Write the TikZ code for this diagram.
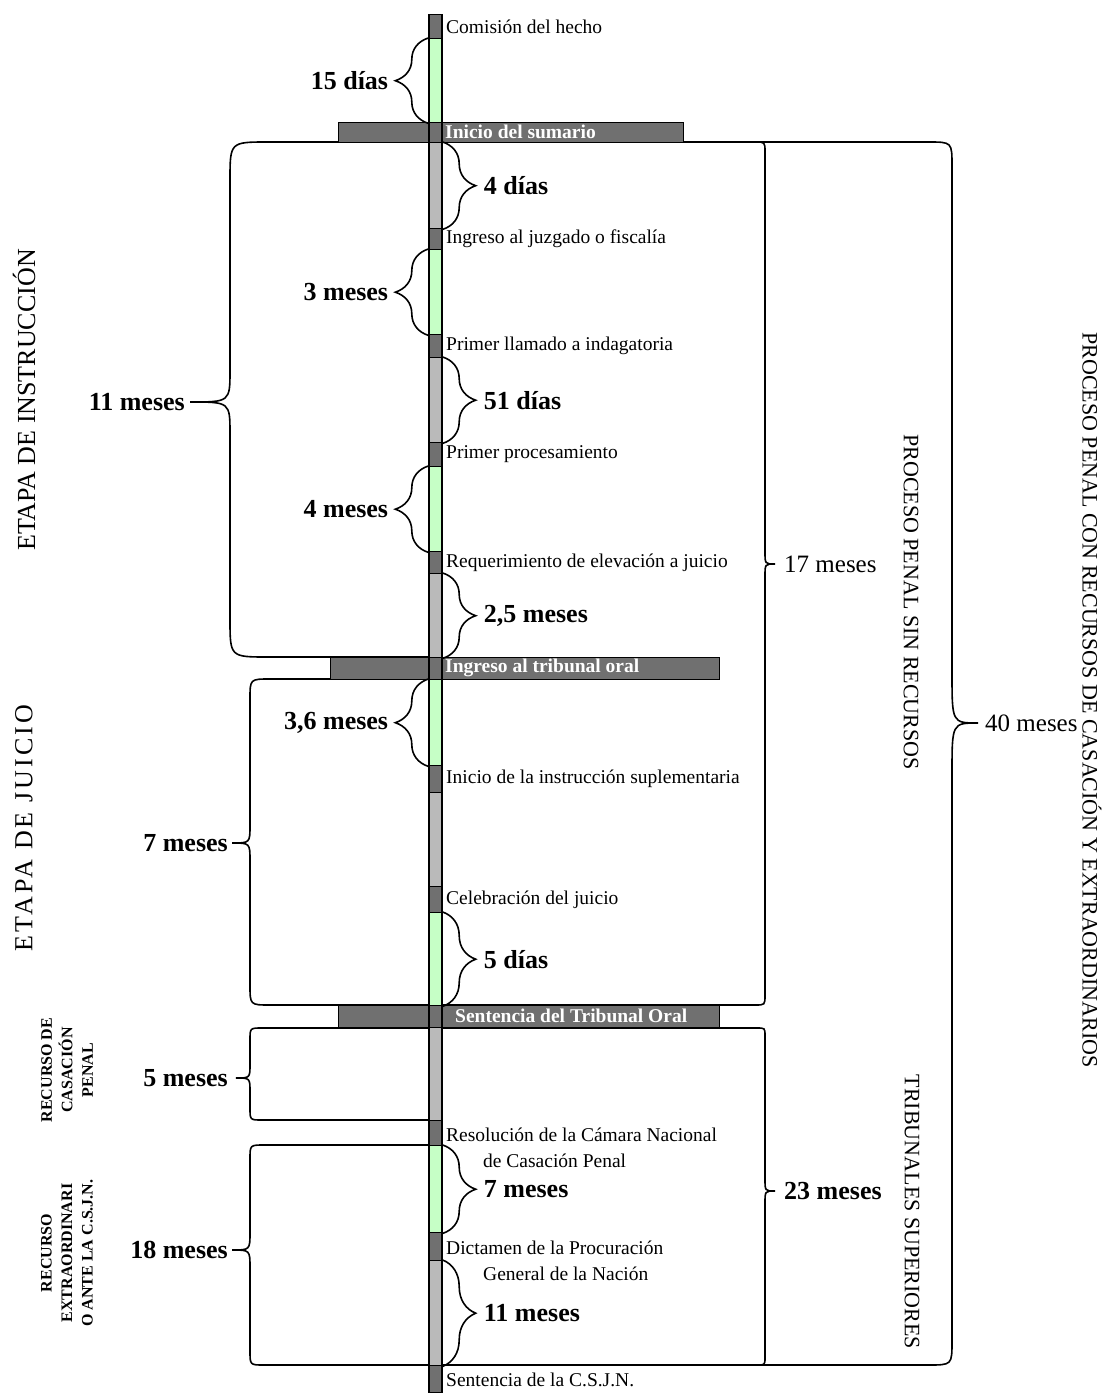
\documentclass[tikz,border=0pt]{standalone}
\usepackage{fontspec}
\setmainfont{Liberation Serif}
\usetikzlibrary{decorations.pathreplacing}

\definecolor{darkseg}{HTML}{707070}
\definecolor{lightseg}{HTML}{BABABA}
\definecolor{greenseg}{HTML}{C6FFC6}

% big brackets: arm x, vertical x, tip x, top y, mid y, bottom y, corner, tip height
\newcommand{\leftbrk}[8]{%
  \draw[bigbrace] (#1,#4) -- ({#2+#7},#4) .. controls (#2,#4) .. (#2,{#4+#7})
    -- (#2,{#5-#8}) .. controls (#2,#5) .. (#3,#5)
    .. controls (#2,#5) .. (#2,{#5+#8})
    -- (#2,{#6-#7}) .. controls (#2,#6) .. ({#2+#7},#6) -- (#1,#6);}
\newcommand{\rightbrk}[8]{%
  \draw[bigbrace] (#1,#4) -- ({#2-#7},#4) .. controls (#2,#4) .. (#2,{#4+#7})
    -- (#2,{#5-#8}) .. controls (#2,#5) .. (#3,#5)
    .. controls (#2,#5) .. (#2,{#5+#8})
    -- (#2,{#6-#7}) .. controls (#2,#6) .. ({#2-#7},#6) -- (#1,#6);}

\begin{document}
\begin{tikzpicture}[x=1pt,y=-1pt,
  seg/.style={draw=black, line width=1.4pt, minimum width=13pt, inner sep=0pt, anchor=north},
  hbar/.style={draw=black, line width=1.4pt, fill=darkseg, inner sep=0pt, anchor=north west},
  event/.style={anchor=west, inner sep=0pt, align=left, font=\fontsize{19.5}{26}\selectfont},
  bartext/.style={anchor=west, inner sep=0pt, text=white, font=\fontsize{19.5}{24}\selectfont\bfseries},
  sbrace/.style={decorate, decoration={brace, amplitude=33pt}, line width=1.6pt},
  bigbrace/.style={line width=1.6pt},
  dur/.style={inner sep=0pt, font=\fontsize{26}{30}\selectfont\bfseries},
  total/.style={inner sep=0pt, font=\fontsize{25}{30}\selectfont},
  stage/.style={inner sep=0pt, rotate=90, font=\fontsize{26}{30}\selectfont},
  appeal/.style={inner sep=0pt, rotate=90, align=center, font=\fontsize{16}{20.5}\selectfont\bfseries},
  process/.style={inner sep=0pt, rotate=-90, font=\fontsize{22}{26}\selectfont}]
\fill[white] (0,0) rectangle (1115,1396);
\useasboundingbox (0,0) rectangle (1115,1396);

% brackets round the stages
\leftbrk{429}{230}{190}{142}{402}{657}{38}{32}
\leftbrk{429}{250}{232}{679}{843}{1005}{20}{18}
\leftbrk{429}{250}{236}{1028}{1078}{1120}{12}{14}
\leftbrk{429}{250}{232}{1145}{1250}{1365}{14}{18}
\rightbrk{442}{765}{775}{142}{564}{1005}{10}{12}
\rightbrk{442}{765}{775}{1028}{1191}{1365}{8}{12}
\rightbrk{442}{952}{978}{142}{723}{1365}{24}{50}

% horizontal bars
\node[hbar, minimum width=345pt, minimum height=20pt] (sumario) at (338,122) {};
\node[hbar, minimum width=389pt, minimum height=22pt] (tribunal) at (330,657) {};
\node[hbar, minimum width=381pt, minimum height=22pt] (sentencia) at (338,1005) {};

% time line
\node[seg, fill=darkseg, minimum height=24pt] (s1) at (435.5,14) {};
\node[seg, fill=greenseg, minimum height=84pt] (s2) at (435.5,38) {};
\node[seg, fill=darkseg, minimum height=20pt] (s3) at (435.5,122) {};
\node[seg, fill=lightseg, minimum height=86pt] (s4) at (435.5,142) {};
\node[seg, fill=darkseg, minimum height=21pt] (s5) at (435.5,228) {};
\node[seg, fill=greenseg, minimum height=85pt] (s6) at (435.5,249) {};
\node[seg, fill=darkseg, minimum height=23pt] (s7) at (435.5,334) {};
\node[seg, fill=lightseg, minimum height=85pt] (s8) at (435.5,357) {};
\node[seg, fill=darkseg, minimum height=24pt] (s9) at (435.5,442) {};
\node[seg, fill=greenseg, minimum height=85pt] (s10) at (435.5,466) {};
\node[seg, fill=darkseg, minimum height=22pt] (s11) at (435.5,551) {};
\node[seg, fill=lightseg, minimum height=84pt] (s12) at (435.5,573) {};
\node[seg, fill=darkseg, minimum height=22pt] (s13) at (435.5,657) {};
\node[seg, fill=greenseg, minimum height=86pt] (s14) at (435.5,679) {};
\node[seg, fill=darkseg, minimum height=27pt] (s15) at (435.5,765) {};
\node[seg, fill=lightseg, minimum height=94pt] (s16) at (435.5,792) {};
\node[seg, fill=darkseg, minimum height=26pt] (s17) at (435.5,886) {};
\node[seg, fill=greenseg, minimum height=93pt] (s18) at (435.5,912) {};
\node[seg, fill=darkseg, minimum height=22pt] (s19) at (435.5,1005) {};
\node[seg, fill=lightseg, minimum height=93pt] (s20) at (435.5,1027) {};
\node[seg, fill=darkseg, minimum height=25pt] (s21) at (435.5,1120) {};
\node[seg, fill=greenseg, minimum height=87pt] (s22) at (435.5,1145) {};
\node[seg, fill=darkseg, minimum height=28pt] (s23) at (435.5,1232) {};
\node[seg, fill=lightseg, minimum height=105pt] (s24) at (435.5,1260) {};
\node[seg, fill=darkseg, minimum height=27pt] (s25) at (435.5,1365) {};

% segment braces
\draw[sbrace] (s2.south west) -- (s2.north west);
\draw[sbrace] (s6.south west) -- (s6.north west);
\draw[sbrace] (s10.south west) -- (s10.north west);
\draw[sbrace] (s14.south west) -- (s14.north west);
\draw[sbrace] (s4.north east) -- (s4.south east);
\draw[sbrace] (s8.north east) -- (s8.south east);
\draw[sbrace] (s12.north east) -- (s12.south east);
\draw[sbrace] (s18.north east) -- (s18.south east);
\draw[sbrace] (s22.north east) -- (s22.south east);
\draw[sbrace] (s24.north east) -- (s24.south east);

% events
\node[bartext] (t3) at (445,132) {Inicio del sumario};
\node[bartext] (t13) at (445,668) {Ingreso al tribunal oral};
\node[bartext] (t19) at (455,1016) {Sentencia del Tribunal Oral};
\node[event] (e1) at (446,27) {Comisión del hecho};
\node[event] (e5) at (446,239) {Ingreso al juzgado o fiscalía};
\node[event] (e7) at (446,346) {Primer llamado a indagatoria};
\node[event] (e9) at (446,454) {Primer procesamiento};
\node[event] (e11) at (446,563) {Requerimiento de elevación a juicio};
\node[event] (e15) at (446,779) {Inicio de la instrucción suplementaria};
\node[event] (e17) at (446,900) {Celebración del juicio};
\node[event] (e21) at (446,1148) {Resolución de la Cámara Nacional\\\hspace*{37pt}de Casación Penal};
\node[event] (e23) at (446,1261) {Dictamen de la Procuración\\\hspace*{37pt}General de la Nación};
\node[event] (e25) at (446,1380) {Sentencia de la C.S.J.N.};

% durations
\node[dur, anchor=east] (d2) at ([xshift=-40pt]s2.west) {15 días};
\node[dur, anchor=east] (d6) at ([xshift=-40pt]s6.west) {3 meses};
\node[dur, anchor=east] (d10) at ([xshift=-40pt]s10.west) {4 meses};
\node[dur, anchor=east] (d14) at ([xshift=-40pt]s14.west) {3,6 meses};
\node[dur, anchor=west] (d4) at ([xshift=41pt]s4.east) {4 días};
\node[dur, anchor=west] (d8) at ([xshift=41pt]s8.east) {51 días};
\node[dur, anchor=west] (d12) at ([xshift=41pt]s12.east) {2,5 meses};
\node[dur, anchor=west] (d18) at ([xshift=41pt]s18.east) {5 días};
\node[dur, anchor=west] (d22) at ([xshift=41pt]s22.east) {7 meses};
\node[dur, anchor=west] (d24) at ([xshift=41pt]s24.east) {11 meses};

\node[dur, anchor=east] (l11) at (185,402) {11 meses};
\node[dur, anchor=east] (l7) at (228,843) {7 meses};
\node[dur, anchor=east] (l5) at (228,1078) {5 meses};
\node[dur, anchor=east] (l18) at (228,1250) {18 meses};
\node[total, anchor=west] (r17) at (784,564) {17 meses};
\node[dur, anchor=west] (r23) at (784,1191) {23 meses};
\node[total, anchor=west] (r40) at (985,723) {40 meses};

% stage titles
\node[stage] (instr) at (24,400) {ETAPA DE INSTRUCCIÓN};
\node[stage] (juicio) at (24,828) {\addfontfeature{LetterSpace=12}ETAPA DE JUICIO};
\node[appeal] (casac) at (67,1070) {RECURSO DE\\CASACIÓN\\PENAL};
\node[appeal] (extra) at (67,1253) {RECURSO\\EXTRAORDINARI\\O ANTE LA C.S.J.N.};
\node[process] (sinrec) at (911,602) {PROCESO PENAL SIN RECURSOS};
\node[process] (trib) at (912,1212) {TRIBUNALES SUPERIORES};
\node[process] (conrec) at (1092,700) {PROCESO PENAL CON RECURSOS DE CASACIÓN Y EXTRAORDINARIOS};
\end{tikzpicture}
\end{document}
